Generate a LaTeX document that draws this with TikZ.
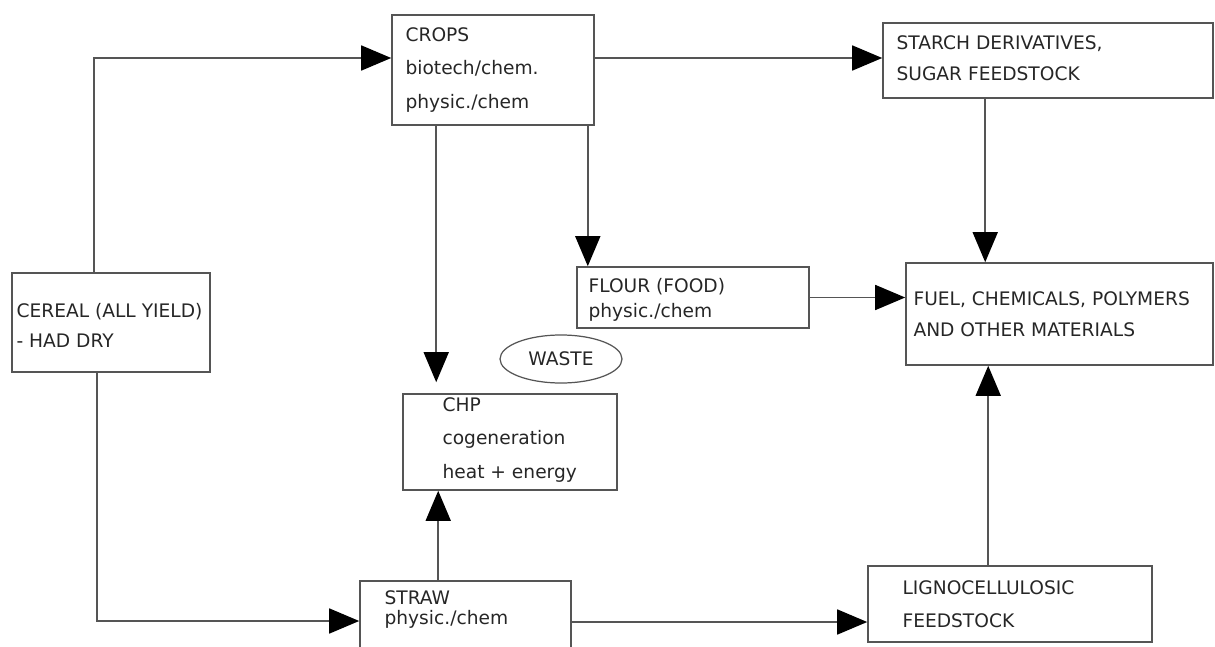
\documentclass[tikz,border=0pt]{standalone}
\usepackage{fontspec}
\setmainfont{DejaVu Sans}
\usetikzlibrary{arrows.meta,shapes.geometric}
\definecolor{linegray}{HTML}{555555}
\newcommand{\boxfont}[1]{\fontsize{10.6}{#1}\selectfont}
\begin{document}
\begin{tikzpicture}[
    box/.style={draw=linegray, line width=0.9pt, rectangle, inner sep=0pt},
    txt/.style={anchor=west, align=left, inner sep=0pt, text=black!85},
    flow/.style={draw=linegray, line width=0.9pt, -{Triangle[length=0.6cm,width=0.5cm,color=black]}}
  ]
  \useasboundingbox (0,0) rectangle (24.3,12.92);

  % riquadri
  \node[box, minimum width=4.04cm, minimum height=2.2cm] (crops) at (9.86,11.52) {};
  \node[txt, font=\boxfont{19}] (cropst) at ([xshift=0.28cm]crops.west) {CROPS\\biotech/chem.\\physic./chem};

  \node[box, minimum width=6.6cm, minimum height=1.5cm] (starch) at (20.96,11.71) {};
  \node[txt, font=\boxfont{17.6}] (starcht) at ([xshift=0.28cm,yshift=0.04cm]starch.west) {STARCH DERIVATIVES,\\SUGAR FEEDSTOCK};

  \node[box, minimum width=3.96cm, minimum height=1.98cm] (cereal) at (2.22,6.47) {};
  \node[txt, font=\boxfont{17}] (cerealt) at ([xshift=0.1cm,yshift=-0.05cm]cereal.west) {CEREAL (ALL YIELD)\\- HAD DRY};

  \node[box, minimum width=4.64cm, minimum height=1.22cm] (flour) at (13.86,6.97) {};
  \node[txt, font=\boxfont{14.2}] (flourt) at ([xshift=0.24cm,yshift=-0.04cm]flour.west) {FLOUR (FOOD)\\physic./chem};

  \node[box, minimum width=6.14cm, minimum height=2.04cm] (fuel) at (21.19,6.64) {};
  \node[txt, font=\boxfont{17.6}] (fuelt) at ([xshift=0.16cm]fuel.west) {FUEL, CHEMICALS, POLYMERS\\AND OTHER MATERIALS};

  \node[box, minimum width=4.28cm, minimum height=1.92cm] (chp) at (10.2,4.08) {};
  \node[txt, font=\boxfont{18.8}] (chpt) at ([xshift=0.8cm,yshift=0.04cm]chp.west) {CHP\\cogeneration\\heat + energy};

  \node[box, minimum width=4.22cm, minimum height=1.42cm] (straw) at (9.31,0.59) {};
  \node[txt, font=\boxfont{11.4}] (strawt) at ([xshift=0.5cm,yshift=0.13cm]straw.west) {STRAW\\physic./chem};

  \node[box, minimum width=5.68cm, minimum height=1.52cm] (ligno) at (20.2,0.84) {};
  \node[txt, font=\boxfont{18.8}] (lignot) at ([xshift=0.7cm]ligno.west) {LIGNOCELLULOSIC\\FEEDSTOCK};

  % ellisse
  \node[draw=linegray, line width=0.7pt, ellipse, minimum width=2.44cm, minimum height=0.96cm, inner sep=0pt, text=black!85, font=\boxfont{12}] (waste) at (11.22,5.74) {WASTE};

  % frecce
  \draw[flow] ([xshift=-0.34cm]cereal.north) |- ([yshift=0.24cm]crops.west);
  \draw[flow] ([yshift=0.24cm]crops.east) -- ([yshift=0.24cm]crops.east -| starch.west);
  \draw[flow, shorten >=0.22cm] ([xshift=0.9cm]crops.south west) -- ([xshift=0.9cm]crops.south west |- chp.north);
  \draw[flow] ([xshift=-0.14cm]crops.south east) -- ([xshift=-0.14cm]crops.south east |- flour.north);
  \draw[flow] ([xshift=2.06cm]starch.south west) -- ([xshift=2.06cm]starch.south west |- fuel.north);
  \draw[flow] (flour.east) -- (flour.east -| fuel.west);
  \draw[flow] ([xshift=-0.28cm]cereal.south) |- ([yshift=-0.09cm]straw.west);
  \draw[flow] ([xshift=1.58cm]straw.north west) -- ([xshift=1.58cm]straw.north west |- chp.south);
  \draw[flow] ([yshift=-0.11cm]straw.east) -- ([yshift=-0.11cm]straw.east -| ligno.west);
  \draw[flow] ([xshift=2.42cm]ligno.north west) -- ([xshift=2.42cm]ligno.north west |- fuel.south);
\end{tikzpicture}
\end{document}
